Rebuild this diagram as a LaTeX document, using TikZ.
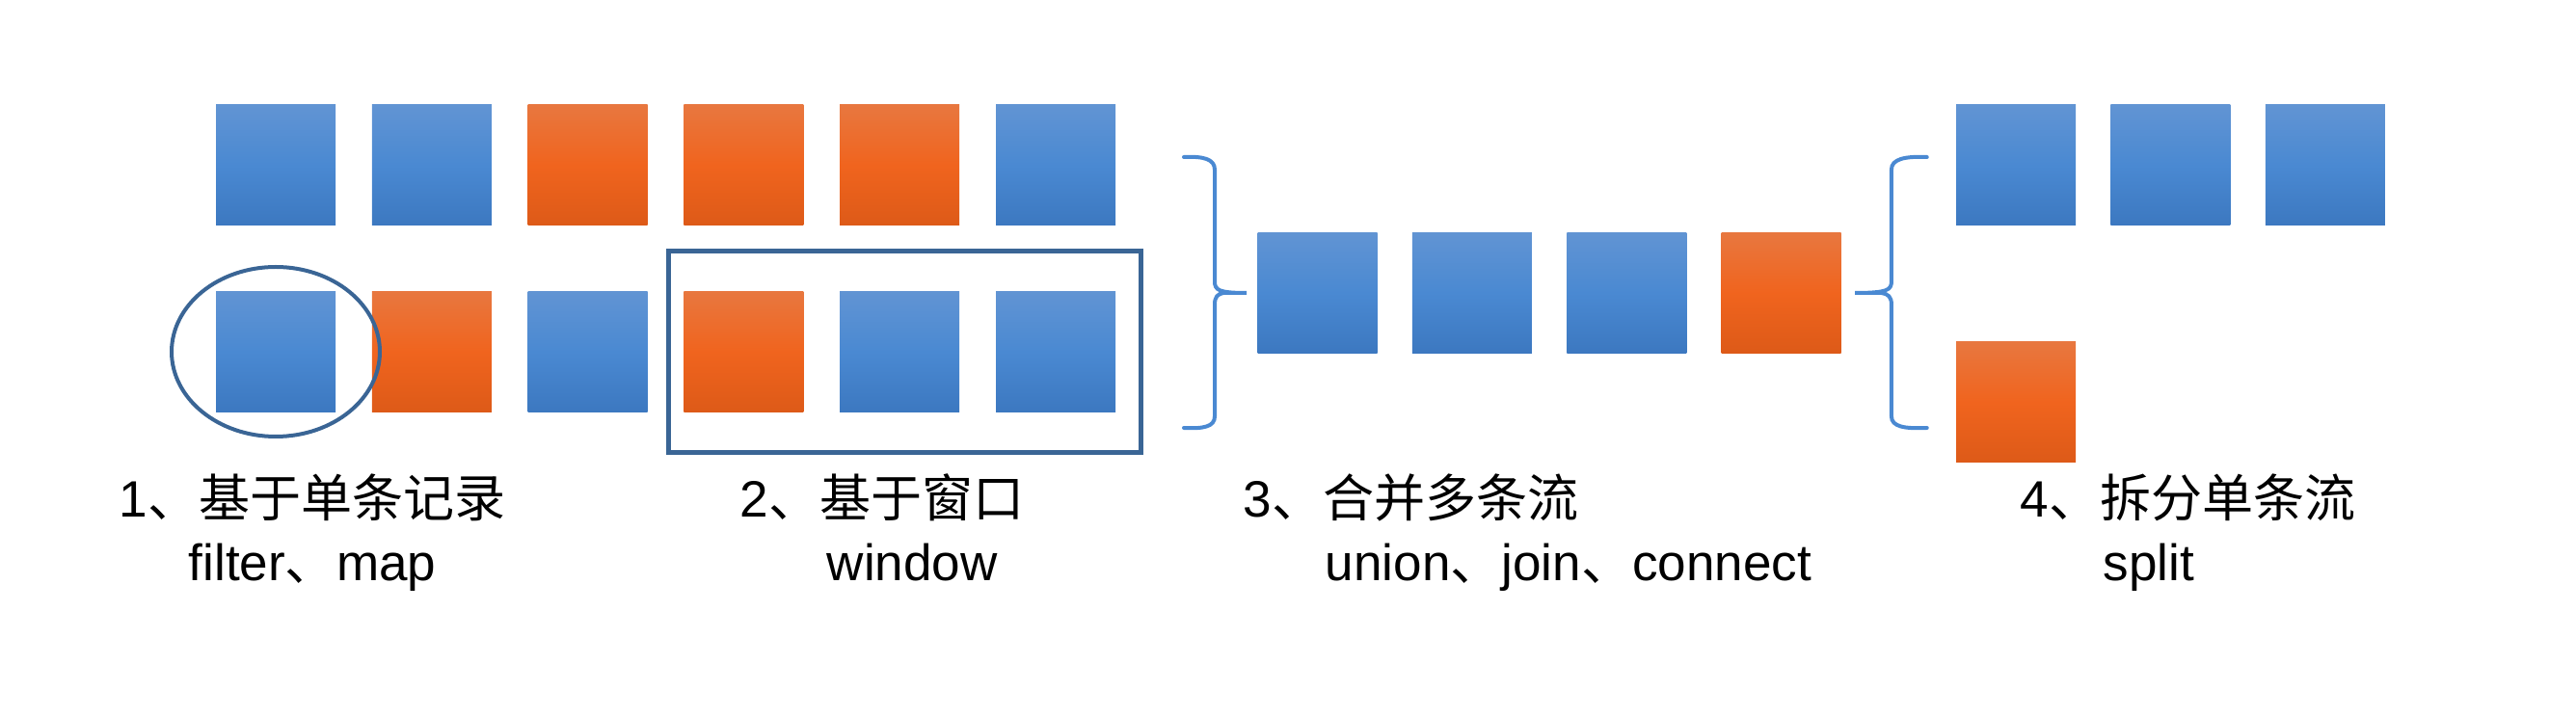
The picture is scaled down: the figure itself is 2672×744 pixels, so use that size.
\documentclass[tikz,border=0pt]{standalone}
\usepackage{fontspec}
\setmainfont{Liberation Sans}
\newfontfamily\cjk{Noto Sans CJK SC}
\usetikzlibrary{positioning,calc}
\definecolor{recblue}{HTML}{4A89D2}
\definecolor{recbluetop}{HTML}{6194D3}
\definecolor{recbluebot}{HTML}{3C78C0}
\definecolor{recorange}{HTML}{F0641E}
\definecolor{recorangetop}{HTML}{E8773F}
\definecolor{recorangebot}{HTML}{DD5A18}
\definecolor{framecol}{HTML}{3A6595}
\newcommand{\recgap}{3.64mm}
\tikzset{
  rec/.style={minimum width=12.4mm, minimum height=12.5mm, inner sep=0pt},
  bluerec/.style={rec, top color=recbluetop, bottom color=recbluebot, middle color=recblue},
  orangerec/.style={rec, top color=recorangetop, bottom color=recorangebot, middle color=recorange},
  frame/.style={draw=framecol, line width=0.5mm},
  ring/.style={draw=framecol, line width=0.4mm},
  bracestroke/.style={draw=recblue, line width=0.4mm, line cap=round},
  % brace with its tip at the origin, opening to the left
  streambrace/.pic={
    \draw[bracestroke] (-65,141) .. controls (-45,142) and (-33,139) .. (-33,128)
      -- (-33,12) .. controls (-33,3) and (-29,0) .. (0,0)
      -- (-24,0) .. controls (-30,-1) and (-33,-4) .. (-33,-12)
      -- (-33,-128) .. controls (-33,-139) and (-45,-141) .. (-65,-140);
  },
  label/.style={anchor=base west, inner sep=0pt, font=\fontsize{15.1}{18}\selectfont}
}

\begin{document}
\begin{tikzpicture}[x=0.1mm, y=0.1mm]

        \useasboundingbox (0,0) rectangle (2672,744);

        % two input streams
        \node (t1) at (286,572.5) [bluerec] {};
        \node (t2) [bluerec, right=\recgap of t1] {};
        \node (t3) [orangerec, right=\recgap of t2] {};
        \node (t4) [orangerec, right=\recgap of t3] {};
        \node (t5) [orangerec, right=\recgap of t4] {};
        \node (t6) [bluerec, right=\recgap of t5] {};

        \node (b1) at (286,379) [bluerec] {};
        \node (b2) [orangerec, right=\recgap of b1] {};
        \node (b3) [bluerec, right=\recgap of b2] {};
        \node (b4) [orangerec, right=\recgap of b3] {};
        \node (b5) [bluerec, right=\recgap of b4] {};
        \node (b6) [bluerec, right=\recgap of b5] {};

        \draw[ring] (b1) ellipse [x radius=10.8mm, y radius=8.8mm];
        \draw[frame] ($(b4.south west)+(-15,-41)$) rectangle ($(b6.north east)+(26,41)$);

        % merged stream
        \coordinate (mergetip) at (1293,440);
        \pic at (mergetip) {streambrace};

        \node (m1) at (1366.5,440) [bluerec] {};
        \node (m2) [bluerec, right=3.5mm of m1] {};
        \node (m3) [bluerec, right=3.5mm of m2] {};
        \node (m4) [orangerec, right=3.5mm of m3] {};

        % split streams
        \coordinate (splittip) at (1924,440);
        \pic[xscale=-1.15] at (splittip) {streambrace};

        \node (s1) at (2091,572.5) [bluerec] {};
        \node (s2) [bluerec, right=3.5mm of s1] {};
        \node (s3) [bluerec, right=3.5mm of s2] {};
        \node (s4) at (2091,326.5) [orangerec] {};

        % labels
        \node (lab1) at (123,207) [label] {1{\cjk 、基于单条记录}};
        \node (op1) at (195,141) [label] {filter{\cjk 、}map};
        \node (lab2) at (767,207) [label] {2{\cjk 、基于窗口}};
        \node (op2) at (857,141) [label] {window};
        \node (lab3) at (1289,207) [label] {3{\cjk 、合并多条流}};
        \node (op3) at (1374,141) [label] {union{\cjk 、}join{\cjk 、}connect};
        \node (lab4) at (2095,207) [label] {4{\cjk 、拆分单条流}};
        \node (op4) at (2181,141) [label] {split};

        \end{tikzpicture}
\end{document}
